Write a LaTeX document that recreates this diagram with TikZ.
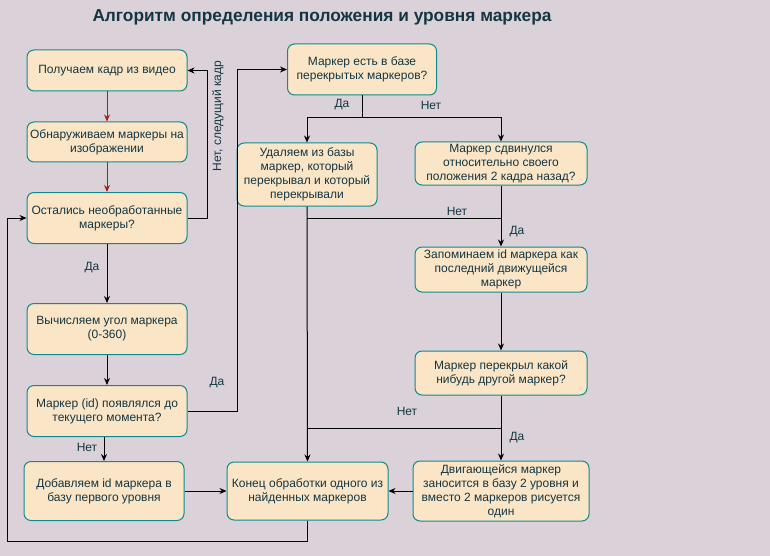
\documentclass[tikz,border=0pt]{standalone}
\usepackage{fontspec}
\setmainfont{Liberation Sans}
\usepackage{tikz}
\usetikzlibrary{
    positioning,
    arrows.meta
}
\definecolor{fon}{HTML}{DAD2D8}
\definecolor{blokfill}{HTML}{FAE5C7}
\definecolor{blokline}{HTML}{0F8B8D}
\definecolor{bloktext}{HTML}{143642}
\definecolor{krasnaya}{HTML}{A8201A}
\tikzset{
    >={Stealth[length=7pt,width=6pt]},
    blok/.style={
        draw=blokline,
        fill=blokfill,
        line width=1pt,
        rounded corners=7pt,
        align=center,
        text=bloktext,
        inner sep=1pt,
        font=\fontsize{12pt}{14pt}\selectfont
    },
    metka/.style={
        text=bloktext,
        inner sep=0pt,
        font=\fontsize{12pt}{14pt}\selectfont
    },
    svyaz/.style={
        line width=1pt
    }
}

\begin{document}
\begin{tikzpicture}[
    x=1pt,
    y=-1pt
]

    \fill[fon] (0,0) rectangle (770,556);
    \useasboundingbox (0,0) rectangle (770,556);

    \node[text=bloktext, font=\fontsize{17.3pt}{20pt}\selectfont\bfseries] (zagolovok) at (322,17)
        {Алгоритм определения положения и уровня маркера};

    % Левая колонка
    \node[blok, minimum width=160pt, minimum height=41pt] (kadr)   at (107,70.5) {Получаем кадр из видео};
    \node[blok, minimum width=160pt, minimum height=40pt] (poisk)  at (107,142)  {Обнаруживаем маркеры на\\изображении};
    \node[blok, minimum width=160pt, minimum height=51pt] (ostal)  at (107,218)  {Остались необработанные\\маркеры?};
    \node[blok, minimum width=160pt, minimum height=51pt] (ugol)   at (107,329)  {Вычисляем угол маркера\\(0-360)};
    \node[blok, minimum width=160pt, minimum height=51pt] (byl)    at (107,411)  {Маркер (id) появлялся до\\текущего момента?};
    \node[blok, minimum width=160pt, minimum height=59pt] (baza1)  at (104,491)  {Добавляем id маркера в\\базу первого уровня};

    % Средняя колонка
    \node[blok, minimum width=149pt, minimum height=51pt] (perekr) at (362,69.5) {Маркер есть в базе\\перекрытых маркеров?};
    \node[blok, minimum width=140pt, minimum height=63pt] (udal)   at (307,174.5) {Удаляем из базы\\маркер, который\\перекрывал и который\\перекрывали};
    \node[blok, minimum width=161pt, minimum height=58pt] (konec)  at (307.5,491) {Конец обработки одного из\\найденных маркеров};

    % Правая колонка
    \node[blok, minimum width=172pt, minimum height=43pt] (sdvig)  at (501,163.5) {Маркер сдвинулся\\относительно своего\\положения 2 кадра назад?};
    \node[blok, minimum width=172pt, minimum height=45pt] (zapom)  at (501,269.5) {Запоминаем id маркера как\\последний движущейся\\маркер};
    \node[blok, minimum width=172pt, minimum height=44pt] (nalozh) at (501,373)   {Маркер перекрыл какой\\нибудь другой маркер?};
    \node[blok, minimum width=176pt, minimum height=60pt] (baza2)  at (501,491)   {Двигающейся маркер\\заносится в базу 2 уровня и\\вместо 2 маркеров рисуется\\один};

    % Точки изломов
    \coordinate (razvilka) at (362,118);
    \coordinate (sliyanie1) at (307,218);
    \coordinate (sliyanie2) at (307,428);
    \coordinate (niz) at (7,541);

    % Связи
    \draw[svyaz, ->, krasnaya] (kadr) -- (poisk);
    \draw[svyaz, ->, krasnaya] (poisk) -- (ostal);
    \draw[svyaz, ->] (ostal) -- (ugol);
    \draw[svyaz, ->] (ugol) -- (byl);
    \draw[svyaz, ->] (baza1.north |- byl.south) -- (baza1.north);
    \draw[svyaz, ->] (baza1.east) -- (konec.west);

    \draw[svyaz, ->] (ostal.east) -- ++(20,0) |- (kadr.east);
    \draw[svyaz, ->] (byl.east) -- ++(50,0) |- (perekr.west);
    \draw[svyaz, ->] (konec.south) |- (niz) |- (ostal.west);

    \draw[svyaz] (perekr.south) -- (razvilka);
    \draw[svyaz, ->] (razvilka) -| (udal.north);
    \draw[svyaz, ->] (razvilka) -| (sdvig.north);
    \draw[svyaz, ->] (udal.south) -- (konec.north);

    \draw[svyaz] (sdvig.south) |- (sliyanie1);
    \draw[svyaz, ->] (sdvig.south) -- (zapom.north);
    \draw[svyaz, ->] (zapom) -- (nalozh);
    \draw[svyaz] (nalozh.south) |- (sliyanie2);
    \draw[svyaz, ->] (nalozh.south) -- (baza2.north);
    \draw[svyaz, ->] (baza2.west) -- (konec.east);

    % Подписи
    \node[metka] (da1)  at (92,268)  {Да};
    \node[metka] (net1) at (87,447)  {Нет};
    \node[metka, rotate=90] (net2) at (218,116) {Нет, следущий кадр};
    \node[metka] (da2)  at (217,383) {Да};
    \node[metka] (da3)  at (342,105) {Да};
    \node[metka] (net3) at (431,105) {Нет};
    \node[metka] (net4) at (457,211) {Нет};
    \node[metka] (da4)  at (517,232) {Да};
    \node[metka] (net5) at (407,411) {Нет};
    \node[metka] (da5)  at (517,438) {Да};

\end{tikzpicture}
\end{document}
